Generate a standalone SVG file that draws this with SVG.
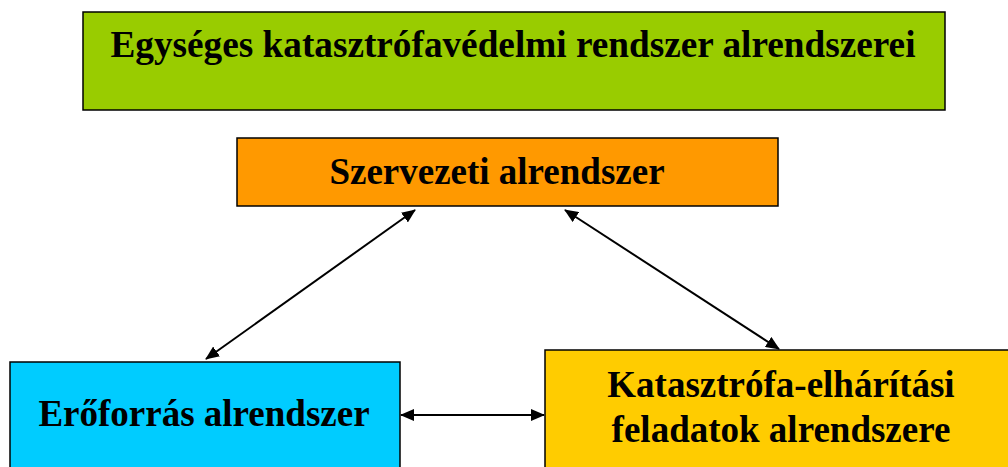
<svg xmlns="http://www.w3.org/2000/svg" width="1008" height="467" viewBox="0 0 1008 467">
<style>
.box{stroke:#000;stroke-width:1.5}
.t{font-family:"Liberation Serif","Times New Roman",serif;font-weight:bold;fill:#000;text-anchor:middle;font-size:37px}
.c{stroke:#000;stroke-width:2;fill:none;marker-start:url(#ah);marker-end:url(#ah)}
</style>
<defs>
<marker id="ah" viewBox="0 0 14 12" refX="13" refY="6" markerWidth="14" markerHeight="12" markerUnits="userSpaceOnUse" orient="auto-start-reverse">
<path d="M0,0 L14,6 L0,12 Z" fill="#000"/>
</marker>
</defs>
<rect width="1008" height="467" fill="#fff"/>
<g id="connectors">
<line class="c" x1="415" y1="210" x2="206" y2="359"/>
<line class="c" x1="565" y1="210" x2="779" y2="349"/>
<line class="c" x1="401" y1="415" x2="544" y2="415"/>
</g>
<g id="top">
<rect class="box" x="83" y="12" width="862" height="98" fill="#99CC00"/>
<text class="t" x="513" y="57" textLength="805" lengthAdjust="spacingAndGlyphs">Egységes katasztrófavédelmi rendszer alrendszerei</text>
</g>
<g id="szervezeti">
<rect class="box" x="237" y="138" width="541" height="68" fill="#FF9900"/>
<text class="t" x="497" y="184">Szervezeti alrendszer</text>
</g>
<g id="eroforras">
<rect class="box" x="10" y="362" width="390" height="110" fill="#00CCFF"/>
<text class="t" x="204" y="426">Erőforrás alrendszer</text>
</g>
<g id="katasztrofa">
<rect class="box" x="545" y="350" width="470" height="122" fill="#FFCC00"/>
<text class="t" x="781" y="397">Katasztrófa-elhárítási</text>
<text class="t" x="781" y="442">feladatok alrendszere</text>
</g>
</svg>
